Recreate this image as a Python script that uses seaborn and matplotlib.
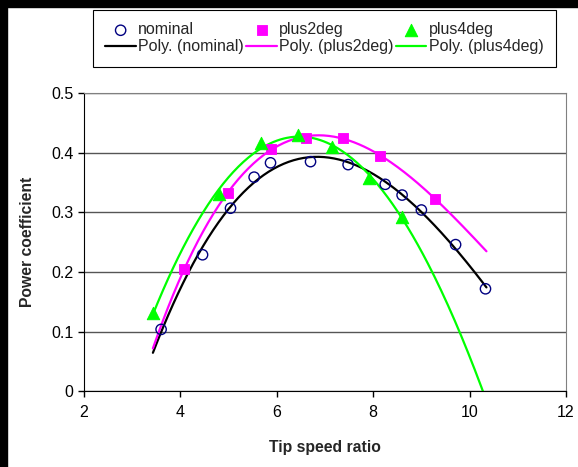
import numpy as np
import matplotlib
matplotlib.use("Agg")
import matplotlib.pyplot as plt
import seaborn as sns
from matplotlib.patches import Rectangle

# Data
nominal_x = [3.60, 4.46, 5.04, 5.53, 5.87, 6.70, 7.48, 8.25, 8.60, 9.00, 9.71, 10.33]
nominal_y = [0.104, 0.229, 0.307, 0.359, 0.383, 0.385, 0.380, 0.347, 0.329, 0.304, 0.246, 0.172]

plus2_x = [4.08, 4.99, 5.87, 6.60, 7.38, 8.15, 9.28]
plus2_y = [0.205, 0.333, 0.407, 0.424, 0.425, 0.395, 0.323]

plus4_x = [3.43, 4.80, 5.68, 6.43, 7.14, 7.92, 8.60]
plus4_y = [0.131, 0.330, 0.416, 0.430, 0.410, 0.358, 0.293]

fit_order = 3
fit_start, fit_end = 3.43, 10.35

sns.set_style("white")
plt.rcParams['font.family'] = ['Liberation Sans', 'DejaVu Sans']

fig = plt.figure(figsize=(5.78, 4.67), dpi=100)
ax = fig.add_axes([0.1453, 0.1617, 0.8339, 0.6392])

series = [
    ("nominal", nominal_x, nominal_y, "black"),
    ("plus2deg", plus2_x, plus2_y, "#FF00FF"),
    ("plus4deg", plus4_x, plus4_y, "#00FF00"),
]

# Poly. trendlines (fitted to each series, like the spreadsheet trendline)
xs = np.linspace(fit_start, fit_end, 200)
for name, x, y, col in series:
    coef = np.polyfit(x, y, fit_order)
    sns.lineplot(x=xs, y=np.polyval(coef, xs), color=col, linewidth=1.6,
                 estimator=None, sort=False, ax=ax, label=f"Poly. ({name})", zorder=2)

sns.scatterplot(x=nominal_x, y=nominal_y, marker="o", s=55, facecolor="none",
                edgecolor="#000080", linewidth=1.0, ax=ax, label="nominal", zorder=3)
sns.scatterplot(x=plus2_x, y=plus2_y, marker="s", s=60, color="#FF00FF",
                edgecolor="#FF00FF", ax=ax, label="plus2deg", zorder=3)
sns.scatterplot(x=plus4_x, y=plus4_y, marker="^", s=80, color="#00FF00",
                edgecolor="#00FF00", ax=ax, label="plus4deg", zorder=3)

ax.set_xlim(2, 12)
ax.set_ylim(0, 0.5)
ax.set_xticks([2, 4, 6, 8, 10, 12])
ax.set_yticks([0, 0.1, 0.2, 0.3, 0.4, 0.5])
ax.set_yticklabels(["0", "0.1", "0.2", "0.3", "0.4", "0.5"])
ax.tick_params(axis="both", direction="out", length=4, width=1, labelsize=11.5,
               colors="black", bottom=True, left=True)
ax.tick_params(axis="x", pad=6)
ax.yaxis.grid(True, color="#555555", linewidth=1)
ax.set_axisbelow(True)
for side in ["left", "bottom"]:
    ax.spines[side].set_color("black")
for side in ["top", "right"]:
    ax.spines[side].set_color("#808080")

ax.set_xlabel("Tip speed ratio", fontsize=11.3, fontweight="bold", labelpad=14)
ax.set_ylabel("Power coefficient", fontsize=11.3, fontweight="bold", labelpad=12)

handles, labels = ax.get_legend_handles_labels()
lookup = dict(zip(labels, handles))
order = ["nominal", "Poly. (nominal)", "plus2deg", "Poly. (plus2deg)",
         "plus4deg", "Poly. (plus4deg)"]
leg = ax.legend([lookup[k] for k in order], order, ncol=3, loc="upper left",
                mode="expand",
                bbox_to_anchor=(93 / 578, 1 - 69 / 467, 463 / 578, 59 / 467),
                bbox_transform=fig.transFigure,
                fontsize=11.5, frameon=True, fancybox=False, framealpha=1,
                edgecolor="black", handlelength=1.9, handletextpad=0.15,
                columnspacing=0.4, borderpad=0.78, borderaxespad=0,
                labelspacing=0.12, scatterpoints=1)
leg.get_frame().set_linewidth(0.8)

# black frame on left/top edges
fig.patches.append(Rectangle((0, 0), 7 / 578, 1, transform=fig.transFigure,
                             color="black", zorder=10))
fig.patches.append(Rectangle((0, 1 - 7 / 467), 1, 7 / 467, transform=fig.transFigure,
                             color="black", zorder=10))

fig.savefig("out.png", dpi=100)
